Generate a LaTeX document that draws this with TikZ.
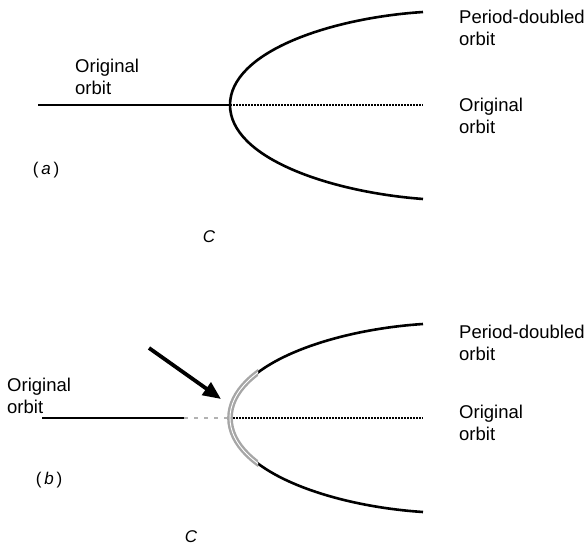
\documentclass[tikz,border=0pt]{standalone}
\usepackage{fontspec}
\setmainfont{Liberation Sans}
\usetikzlibrary{arrows.meta}
\begin{document}
\begin{tikzpicture}[x=1pt,y=-1pt,
  curve/.style={line width=2.6pt},
  wavy/.style={line width=2.4pt,dash pattern=on 2.2pt off 0.8pt},
  faint/.style={line width=2.4pt,draw=gray!70,double=white,double distance=0.9pt},
  lbl/.style={anchor=north west,inner sep=0pt,align=left,font=\fontsize{18.5}{22}\selectfont},
  tag/.style={inner sep=0pt,font=\fontsize{17}{20}\selectfont}]
\useasboundingbox (0,0) rectangle (587,549);
% ---------- panel (a)
\coordinate (a0) at (38,105);
\coordinate (av) at (230,105);
\coordinate (aw) at (423,105);
\coordinate (au) at (423,12);
\coordinate (ad) at (423,199);
\draw[curve] (a0) -- (av);
\draw[wavy] (av) -- (aw);
\draw[curve] (au) .. controls (330,18) and (230,52) .. (av)
                  .. controls (230,158) and (330,192) .. (ad);
\node[lbl] (aorig) at (75,59) {Original\\orbit};
\node[lbl] (apd) at (459,10) {Period-doubled\\orbit};
\node[lbl] (aorig2) at (459,98) {Original\\orbit};
\node[tag] (alab) at (46,170) {(\,\textit{a}\,)};
\node[tag] (ac) at (209,237) {\textit{C}};
% ---------- panel (b)
\coordinate (b0) at (42,418);
\coordinate (b1) at (184,418);
\coordinate (bv) at (230,418);
\coordinate (bw) at (423,418);
\coordinate (bu) at (423,324);
\coordinate (bd) at (423,512);
\draw[curve] (b0) -- (b1);
\draw[line width=2pt,draw=gray!60,dash pattern=on 4pt off 6pt] (b1) -- (bv);
\draw[wavy] (bv) -- (bw);
\begin{scope}
  \clip (258,300) rectangle (440,530);
  \draw[curve] (bu) .. controls (330,330) and (230,365) .. (bv)
                    .. controls (230,471) and (330,506) .. (bd);
\end{scope}
\begin{scope}
  \clip (220,300) rectangle (258,530);
  \draw[faint] (bu) .. controls (330,330) and (230,365) .. (bv)
                    .. controls (230,471) and (330,506) .. (bd);
\end{scope}
\coordinate (atail) at (149,348);
\coordinate (ahead) at (221,399);
\draw[line width=3.8pt,-{Triangle[length=18pt,width=15pt]}] (atail) -- (ahead);
\node[lbl] (borig) at (7,378) {Original\\orbit};
\node[lbl] (bpd) at (459,325) {Period-doubled\\orbit};
\node[lbl] (borig2) at (459,405) {Original\\orbit};
\node[tag] (blab) at (49,480) {(\,\textit{b}\,)};
\node[tag] (bc) at (191,537) {\textit{C}};
\end{tikzpicture}
\end{document}
